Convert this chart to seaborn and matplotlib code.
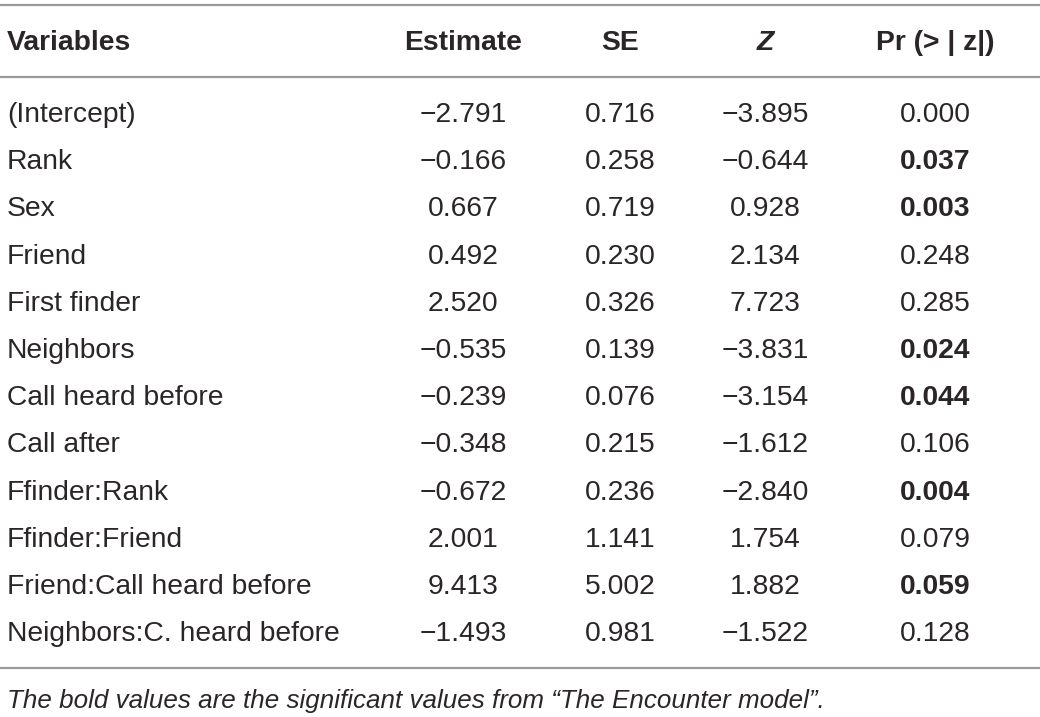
import matplotlib.pyplot as plt
import seaborn as sns

variables = ["(Intercept)", "Rank", "Sex", "Friend", "First finder", "Neighbors",
             "Call heard before", "Call after", "Ffinder:Rank", "Ffinder:Friend",
             "Friend:Call heard before", "Neighbors:C. heard before"]
estimate = [-2.791, -0.166, 0.667, 0.492, 2.520, -0.535, -0.239, -0.348, -0.672, 2.001, 9.413, -1.493]
se = [0.716, 0.258, 0.719, 0.230, 0.326, 0.139, 0.076, 0.215, 0.236, 1.141, 5.002, 0.981]
z = [-3.895, -0.644, 0.928, 2.134, 7.723, -3.831, -3.154, -1.612, -2.840, 1.754, 1.882, -1.522]
pr = [0.000, 0.037, 0.003, 0.248, 0.285, 0.024, 0.044, 0.106, 0.004, 0.079, 0.059, 0.128]
significant = [False, True, True, False, False, True, True, False, True, False, True, False]
headers = ["Variables", "Estimate", "SE", "Z", "Pr (> | z|)"]
note = "The bold values are the significant values from \u201cThe Encounter model\u201d."

sns.set_theme(style="white")
plt.rcParams['font.family'] = ['Liberation Sans', 'DejaVu Sans']

TXT = "#2a2627"
LINE = "#9a9a9a"
FS = 20.3


def fmt(v):
    s = f"{abs(v):.3f}"
    return ("\u2212" + s) if v < 0 else s


fig = plt.figure(figsize=(10.4, 7.17), dpi=100)
ax = fig.add_axes([0, 0, 1, 1])
ax.set_xlim(0, 1040)
ax.set_ylim(717, 0)
ax.axis("off")

col_x = [7, 463, 620, 765, 935]
header_y = 43
row0 = 115
row_h = 47.2

# header
for j, h in enumerate(headers):
    ha = "left" if j == 0 else "center"
    style = "italic" if h == "Z" else "normal"
    ax.text(col_x[j], header_y, h, ha=ha, va="center", fontsize=FS,
            fontweight="bold", fontstyle=style, color=TXT)

# rules
for y in (5, 77, 668):
    ax.axhline(y, color=LINE, lw=1.6)

# body
for i, name in enumerate(variables):
    y = row0 + i * row_h
    ax.text(col_x[0], y, name, ha="left", va="center", fontsize=FS, color=TXT)
    for j, vals in enumerate([estimate, se, z], start=1):
        ax.text(col_x[j], y, fmt(vals[i]), ha="center", va="center",
                fontsize=FS, color=TXT)
    ax.text(col_x[4], y, fmt(pr[i]), ha="center", va="center", fontsize=FS,
            color=TXT, fontweight="bold" if significant[i] else "normal")

ax.text(col_x[0], 701, note, ha="left", va="center", fontsize=18.7,
        fontstyle="italic", color=TXT)

fig.savefig("out.png", dpi=100)
